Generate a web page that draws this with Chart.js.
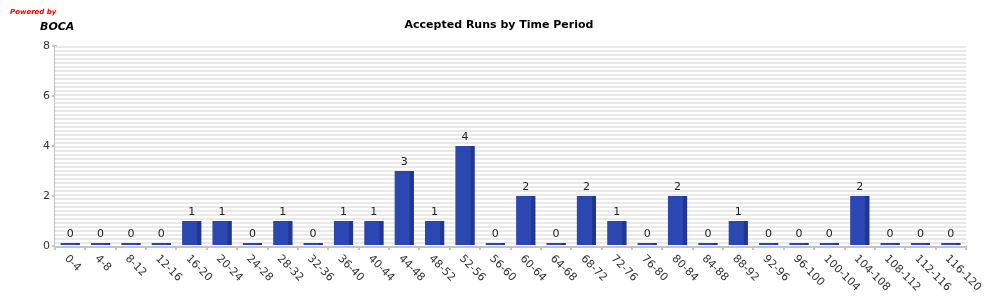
<!DOCTYPE html>
<html>
<head>
<meta charset="utf-8">
<script src="https://cdn.jsdelivr.net/npm/chart.js@4/dist/chart.umd.min.js"></script>
<style>
  html, body { margin: 0; padding: 0; background: #fff; }
  #wrap { width: 1000px; height: 300px; }
</style>
</head>
<body>
<div id="wrap"><canvas id="runsChart" width="1000" height="300"></canvas></div>
<script>
// dados do grafico
const periods = ['0-4', '4-8', '8-12', '12-16', '16-20', '20-24', '24-28', '28-32', '32-36', '36-40',
  '40-44', '44-48', '48-52', '52-56', '56-60', '60-64', '64-68', '68-72', '72-76', '76-80',
  '80-84', '84-88', '88-92', '92-96', '96-100', '100-104', '104-108', '108-112', '112-116', '116-120'];
const acceptedRuns = [0, 0, 0, 0, 1, 1, 0, 1, 0, 1,
  1, 3, 1, 4, 0, 2, 0, 2, 1, 0,
  2, 0, 1, 0, 0, 0, 2, 0, 0, 0];
const yTicks = [0, 2, 4, 6, 8];

const chartTitle = 'Accepted Runs by Time Period';
const font = 'DejaVu Sans, sans-serif';

// fundo listrado + textos + lado escuro das barras
const bocaPlugin = {
  id: 'boca',
  beforeDatasetsDraw(chart) {
    const { ctx, chartArea: a } = chart;
    ctx.save();
    ctx.fillStyle = '#ffffff';
    ctx.fillRect(a.left, a.top, a.right - a.left, a.bottom - a.top);
    ctx.fillStyle = '#e9e9e9';
    for (let y = a.top; y < a.bottom; y += 4) {
      ctx.fillRect(a.left, y, a.right - a.left, 2);
    }
    ctx.restore();
  },
  afterDatasetsDraw(chart) {
    const { ctx } = chart;
    const meta = chart.getDatasetMeta(0);
    ctx.save();
    meta.data.forEach((bar, i) => {
      const w = bar.width;
      ctx.fillStyle = '#22368c';
      ctx.fillRect(bar.x + w / 2 - 4, bar.y, 4, bar.base - bar.y);
      ctx.fillStyle = '#222';
      ctx.font = '11px ' + font;
      ctx.textAlign = 'center';
      ctx.textBaseline = 'bottom';
      ctx.fillText(String(acceptedRuns[i]), bar.x, bar.y - 3);
    });

    // rotulos do eixo x inclinados para baixo
    const xScale = chart.scales.x;
    ctx.fillStyle = '#333';
    ctx.font = '11px ' + font;
    ctx.textAlign = 'left';
    ctx.textBaseline = 'middle';
    periods.forEach((label, i) => {
      const x = xScale.getPixelForValue(i);
      ctx.save();
      ctx.translate(x - 4, chart.chartArea.bottom + 11);
      ctx.rotate(Math.PI / 4);
      ctx.fillText(label, 0, 0);
      ctx.restore();
    });

    // titulo e marca
    ctx.fillStyle = '#000';
    ctx.font = 'bold 11px ' + font;
    ctx.textAlign = 'center';
    ctx.textBaseline = 'middle';
    ctx.fillText(chartTitle, 499, 25);

    ctx.textAlign = 'left';
    ctx.fillStyle = '#ff0000';
    ctx.font = 'italic bold 7px ' + font;
    ctx.fillText('Powered by', 10, 12);
    ctx.fillStyle = '#000';
    ctx.font = 'italic bold 11px ' + font;
    ctx.fillText('BOCA', 40, 27);
    ctx.restore();
  }
};

new Chart(document.getElementById('runsChart'), {
  type: 'bar',
  data: {
    labels: periods,
    datasets: [{
      data: acceptedRuns,
      backgroundColor: '#2b47b1',
      borderWidth: 0,
      minBarLength: 3,
      barPercentage: 0.63,
      categoryPercentage: 1
    }]
  },
  options: {
    responsive: false,
    animation: false,
    events: [],
    layout: { padding: { left: 0, top: 46, right: 34, bottom: 0 } },
    plugins: {
      legend: { display: false },
      tooltip: { enabled: false }
    },
    scales: {
      x: {
        afterFit(scale) { scale.height = 54; },
        ticks: { display: false },
        grid: { drawOnChartArea: false, drawTicks: true, tickLength: 4, color: '#c4c4c4', lineWidth: 2 },
        border: { color: '#c4c4c4', width: 3 }
      },
      y: {
        min: 0,
        max: 8,
        afterFit(scale) { scale.width = 55; },
        afterBuildTicks(scale) { scale.ticks = yTicks.map(v => ({ value: v })); },
        ticks: { font: { family: font, size: 11 }, color: '#333', padding: 2 },
        grid: { drawOnChartArea: false, drawTicks: true, tickLength: 3, color: '#c4c4c4', lineWidth: 2 },
        border: { color: '#c4c4c4', width: 3 }
      }
    }
  },
  plugins: [bocaPlugin]
});
</script>
</body>
</html>
